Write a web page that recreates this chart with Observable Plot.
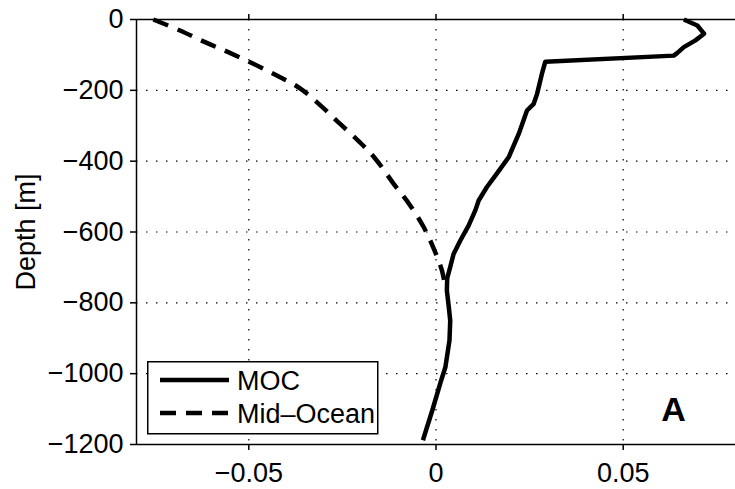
<!DOCTYPE html>
<html>
<head>
<meta charset="utf-8">
<script src="https://cdn.jsdelivr.net/npm/d3@7"></script>
<script src="https://cdn.jsdelivr.net/npm/@observablehq/plot@0.6"></script>
<style>
  html, body { margin: 0; padding: 0; background: #fff; }
  #wrap { position: relative; width: 735px; height: 489px; font-family: "Liberation Sans", Arial, Helvetica, sans-serif; }
  #legend { position: absolute; left: 147px; top: 361px; }
</style>
</head>
<body>
<div id="wrap"></div>
<script>
// ---- data ----
const mocValue = [0.0662, 0.0698, 0.0716, 0.0693, 0.0662, 0.0644, 0.0635, 0.0292, 0.0283, 0.0270, 0.0261, 0.0243, 0.0221, 0.0194, 0.0159, 0.0136, 0.0114, 0.0105, 0.0087, 0.0065, 0.0047, 0.0038, 0.0030, 0.0029, 0.0034, 0.0038, 0.0036, 0.0025, 0.0012, -0.0010, -0.0035];
const mocDepth = [0, -17, -40, -59, -78, -95, -102, -119, -153, -210, -238, -257, -323, -389, -440, -473, -511, -539, -582, -624, -662, -699, -730, -765, -810, -850, -906, -982, -1025, -1104, -1188];
const midValue = [-0.0755, -0.0684, -0.0617, -0.0555, -0.0488, -0.0425, -0.0365, -0.0308, -0.0256, -0.0204, -0.0162, -0.0113, -0.0069, -0.0033, -0.0006, 0.0016, 0.0024];
const midDepth = [0, -31, -64, -92, -125, -158, -193, -243, -295, -346, -393, -464, -525, -586, -647, -709, -752];
const xTicks = [-0.05, 0, 0.05];
const yTicks = [0, -200, -400, -600, -800, -1000, -1200];
const xDomain = [-0.08, 0.08];
const yDomain = [-1200, 0];
const seriesNames = ["MOC", "Mid\u2013Ocean"];
const yLabel = "Depth [m]";
const panelLabel = "A";

const moc = mocValue.map((v, i) => ({v, d: mocDepth[i]}));
const mid = midValue.map((v, i) => ({v, d: midDepth[i]}));

const fmtX = d => d === 0 ? "0" : (d < 0 ? "\u2212" : "") + Math.abs(d).toFixed(2);
const fmtY = d => d === 0 ? "0" : (d < 0 ? "\u2212" : "") + Math.abs(d);

const fs = 27;
const chart = Plot.plot({
  width: 735,
  height: 489,
  marginLeft: 136,
  marginTop: 19,
  marginBottom: 45,
  marginRight: 0,
  style: {fontFamily: "'Liberation Sans', Arial, Helvetica, sans-serif", fontSize: fs + "px", color: "#000", background: "#fff"},
  x: {domain: xDomain},
  y: {domain: yDomain},
  marks: [
    Plot.gridX(xTicks, {stroke: "#000", strokeOpacity: 1, strokeWidth: 1.2, strokeDasharray: "1.5,8.5"}),
    Plot.gridY(yTicks, {stroke: "#000", strokeOpacity: 1, strokeWidth: 1.2, strokeDasharray: "1.5,8.5"}),
    Plot.ruleY([yDomain[0], yDomain[1]], {stroke: "#000", strokeWidth: 1.5}),
    Plot.ruleX([xDomain[0]], {stroke: "#000", strokeWidth: 1.5}),
    Plot.axisX(xTicks, {anchor: "bottom", tickSize: 6, tickPadding: 12, tickFormat: fmtX, label: null, fontSize: fs, strokeWidth: 1.5}),
    Plot.axisX(xTicks, {anchor: "top", tickSize: 6, tickFormat: () => "", label: null, strokeWidth: 1.5}),
    Plot.axisY(yTicks, {anchor: "left", tickSize: 6, tickPadding: 7, tickFormat: fmtY, label: null, fontSize: fs, strokeWidth: 1.5}),
    Plot.text([yLabel], {frameAnchor: "left", rotate: -90, dx: -110, fontSize: fs, textAnchor: "middle", lineAnchor: "middle"}),
    Plot.line(mid, {x: "v", y: "d", stroke: "#000", strokeWidth: 4.5, strokeDasharray: "16,10", strokeLinecap: "butt", curve: "catmull-rom"}),
    Plot.line(moc, {x: "v", y: "d", stroke: "#000", strokeWidth: 4.5, strokeLinejoin: "round", strokeLinecap: "butt"}),
    Plot.text([panelLabel], {frameAnchor: "bottom-right", dx: -62, dy: -34, fontSize: 34, fontWeight: "bold", textAnchor: "middle", lineAnchor: "middle"})
  ]
});
document.getElementById("wrap").appendChild(chart);

// legend (inside the axes, as in the reference)
const legendItems = [{label: seriesNames[0], dash: null}, {label: seriesNames[1], dash: "16,10"}];
const lg = d3.select("#wrap").append("svg").attr("id", "legend").attr("width", 232).attr("height", 74);
lg.append("rect").attr("x", 0.75).attr("y", 0.75).attr("width", 230).attr("height", 72)
  .attr("fill", "#fff").attr("stroke", "#000").attr("stroke-width", 1.5);
const rows = lg.selectAll("g").data(legendItems).join("g")
  .attr("transform", (d, i) => `translate(0,${19 + i * 33})`);
rows.append("line").attr("x1", 13).attr("x2", 82).attr("y1", 0).attr("y2", 0)
  .attr("stroke", "#000").attr("stroke-width", 4.5)
  .attr("stroke-dasharray", d => d.dash);
rows.append("text").attr("x", 90).attr("y", 10).text(d => d.label)
  .attr("font-size", fs).attr("font-family", "'Liberation Sans', Arial, Helvetica, sans-serif").attr("fill", "#000");
</script>
</body>
</html>
